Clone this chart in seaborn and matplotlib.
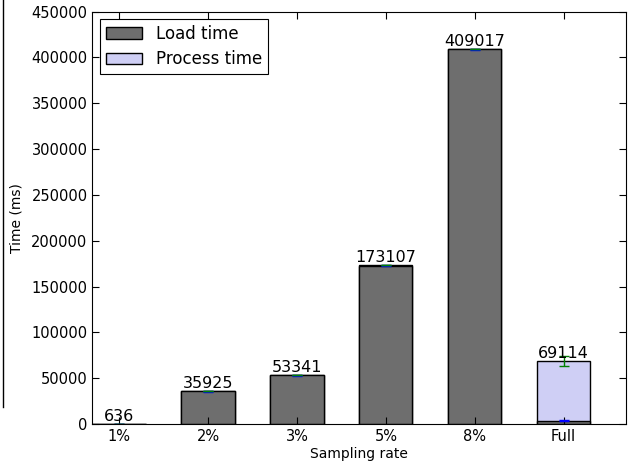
import numpy as np
import pandas as pd
import seaborn as sns
import matplotlib.pyplot as plt
from matplotlib.patches import Patch
from matplotlib.lines import Line2D

# data
rates = ['1%', '2%', '3%', '5%', '8%', 'Full']
totals = [636, 35925, 53341, 173107, 409017, 69114]
load_time = [600, 35800, 53200, 172900, 408800, 3800]
load_err = [40, 300, 300, 400, 500, 150]
process_err = [5, 30, 30, 40, 40, 5500]

process_time = [t - l for t, l in zip(totals, load_time)]
df = pd.DataFrame({'rate': rates, 'total': totals, 'load': load_time})

plt.rcParams['font.family'] = ['DejaVu Sans']
plt.rcParams['xtick.direction'] = 'in'
plt.rcParams['ytick.direction'] = 'in'
plt.rcParams['xtick.top'] = True
plt.rcParams['ytick.right'] = True

fig = plt.figure(figsize=(6.29, 4.63), dpi=100)
ax = fig.add_axes([0.147, 0.084, 0.848, 0.891])

gray = '#6e6e6e'
lav = '#cfcff5'

# stacked bars: total (process on top) behind, load in front
sns.barplot(data=df, x='rate', y='total', color=lav, edgecolor='black',
            linewidth=1, width=0.6, saturation=1, ax=ax)
sns.barplot(data=df, x='rate', y='load', color=gray, edgecolor='black',
            linewidth=1, width=0.6, saturation=1, ax=ax)

pos = np.arange(len(rates))
ax.errorbar(pos, load_time, yerr=load_err, fmt='none', ecolor='blue',
            capsize=3.5, elinewidth=1)
ax.errorbar(pos, totals, yerr=process_err, fmt='none', ecolor='green',
            capsize=3.5, elinewidth=1)

for x, y in zip(pos, totals):
    ax.text(x, y, f'{y}', ha='center', va='bottom', fontsize=11.5)

ax.set_xlim(-0.3, 5.7)
ax.set_ylim(0, 450000)
ax.set_yticks(range(0, 450001, 50000))
ax.tick_params(labelsize=10.5, length=5)
ax.set_xlabel('Sampling rate', fontsize=10, labelpad=2)
ax.set_ylabel('Time (ms)', fontsize=10, labelpad=6)

handles = [Patch(facecolor=gray, edgecolor='black', label='Load time'),
           Patch(facecolor=lav, edgecolor='black', label='Process time')]
leg = ax.legend(handles=handles, loc='upper left', fontsize=12,
                fancybox=False, framealpha=1, edgecolor='black',
                handlelength=2.2, handletextpad=0.8, labelspacing=0.45,
                borderaxespad=0.45, borderpad=0.35)
leg.get_frame().set_linewidth(0.8)

fig.add_artist(Line2D([0.005, 0.005], [1.0, 0.12], color='black', lw=1))

plt.savefig('out.png', dpi=100)
